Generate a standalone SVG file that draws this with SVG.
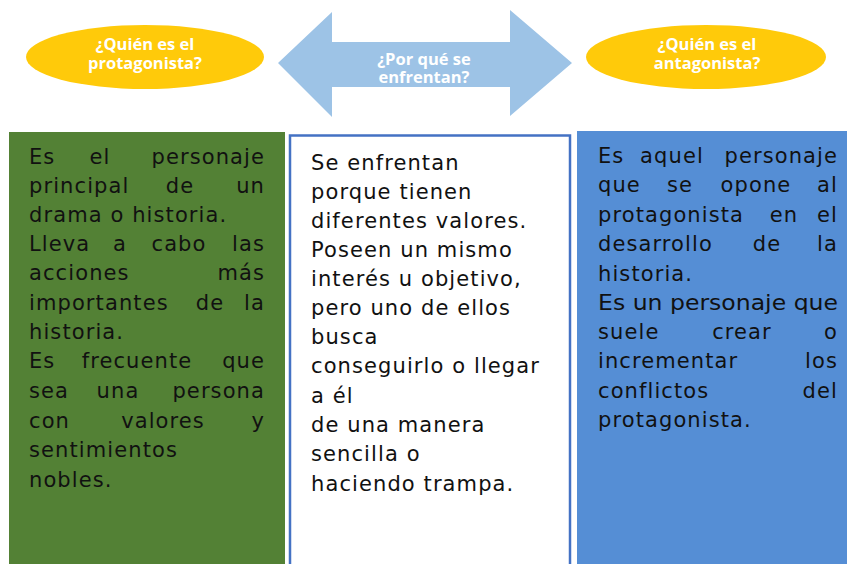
<svg xmlns="http://www.w3.org/2000/svg" width="847" height="564" viewBox="0 0 847 564">
<style>
.hd{font-family:"Open Sans","DejaVu Sans",sans-serif;font-weight:bold;font-size:16.5px;fill:#ffffff;text-anchor:middle}
.bd{font-family:"DejaVu Sans","Noto Sans",sans-serif;font-size:21px;fill:#111111;letter-spacing:1.1px}
.m{text-anchor:middle}
.e{text-anchor:end}
</style>
<rect width="847" height="564" fill="#ffffff"/>
<g id="protagonista-q">
<ellipse cx="145" cy="57" rx="119" ry="32" fill="#FFCA0A"/>
<text class="hd" x="145" y="50">¿Quién es el</text>
<text class="hd" x="145" y="69">protagonista?</text>
</g>
<g id="enfrentan-q">
<polygon points="278,63 332,12 332,42 510,42 510,10 572,63 510,116 510,87 332,87 332,117" fill="#9DC3E6"/>
<text class="hd" x="424" y="65">¿Por qué se</text>
<text class="hd" x="424" y="83">enfrentan?</text>
</g>
<g id="antagonista-q">
<ellipse cx="706" cy="57" rx="120" ry="32" fill="#FFCA0A"/>
<text class="hd" x="707" y="50">¿Quién es el</text>
<text class="hd" x="707" y="69">antagonista?</text>
</g>
<g id="protagonista-box">
<rect x="9" y="132" width="276" height="440" fill="#538135"/>
<g class="bd">
<text x="29" y="164">Es</text><text class="m" x="100" y="164">el</text><text class="e" x="265" y="164">personaje</text>
<text x="29" y="193">principal</text><text class="m" x="180" y="193">de</text><text class="e" x="265" y="193">un</text>
<text x="29" y="222">drama o historia.</text>
<text x="29" y="251">Lleva</text><text class="m" x="120" y="251">a</text><text class="m" x="179" y="251">cabo</text><text class="e" x="265" y="251">las</text>
<text x="29" y="280">acciones</text><text class="e" x="265" y="280">más</text>
<text x="29" y="310">importantes</text><text class="m" x="210" y="310">de</text><text class="e" x="265" y="310">la</text>
<text x="29" y="339">historia.</text>
<text x="29" y="368">Es</text><text class="m" x="137" y="368">frecuente</text><text class="e" x="265" y="368">que</text>
<text x="29" y="398">sea</text><text class="m" x="118" y="398">una</text><text class="e" x="265" y="398">persona</text>
<text x="29" y="428">con</text><text class="m" x="163" y="428">valores</text><text class="e" x="265" y="428">y</text>
<text x="29" y="457">sentimientos</text>
<text x="29" y="487">nobles.</text>
</g>
</g>
<g id="enfrentan-box">
<rect x="290" y="135.5" width="280" height="440" fill="#ffffff" stroke="#4472C4" stroke-width="2.5"/>
<g class="bd">
<text x="311" y="170">Se enfrentan</text>
<text x="311" y="199">porque tienen</text>
<text x="311" y="228">diferentes valores.</text>
<text x="311" y="257">Poseen un mismo</text>
<text x="311" y="286">interés u objetivo,</text>
<text x="311" y="315">pero uno de ellos</text>
<text x="311" y="344">busca</text>
<text x="311" y="373">conseguirlo o llegar</text>
<text x="311" y="403">a él</text>
<text x="311" y="432">de una manera</text>
<text x="311" y="461">sencilla o</text>
<text x="311" y="491">haciendo trampa.</text>
</g>
</g>
<g id="antagonista-box">
<rect x="577" y="131" width="272" height="440" fill="#558ED5"/>
<g class="bd">
<text x="598" y="163">Es</text><text class="m" x="672" y="163">aquel</text><text class="e" x="838" y="163">personaje</text>
<text x="598" y="192">que</text><text class="m" x="680" y="192">se</text><text class="m" x="756" y="192">opone</text><text class="e" x="838" y="192">al</text>
<text x="598" y="222">protagonista</text><text class="m" x="784" y="222">en</text><text class="e" x="838" y="222">el</text>
<text x="598" y="251">desarrollo</text><text class="m" x="767" y="251">de</text><text class="e" x="838" y="251">la</text>
<text x="598" y="281">historia.</text>
<text x="598" y="310" textLength="240" lengthAdjust="spacingAndGlyphs" style="letter-spacing:0">Es un personaje que</text>
<text x="598" y="339">suele</text><text class="m" x="742" y="339">crear</text><text class="e" x="838" y="339">o</text>
<text x="598" y="368">incrementar</text><text class="e" x="838" y="368">los</text>
<text x="598" y="398">conflictos</text><text class="e" x="838" y="398">del</text>
<text x="598" y="427">protagonista.</text>
</g>
</g>
<g id="connectors"/>
</svg>
